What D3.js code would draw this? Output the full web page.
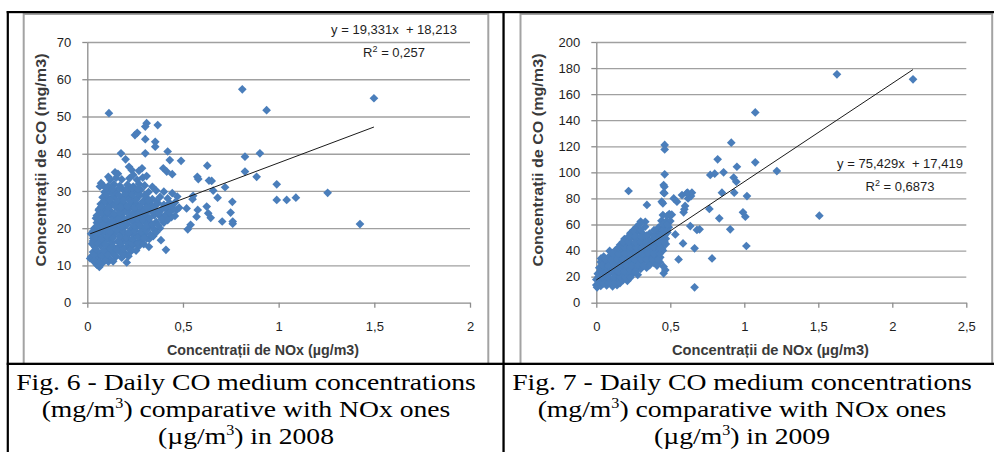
<!DOCTYPE html>
<html lang="ro">

<head>
    <meta charset="UTF-8" />
    <title>CO vs NOx 2008 / 2009</title>
    <script src="https://d3js.org/d3.v7.min.js"></script>
    <style>
        body {
            margin: 0;
            background: #fff;
        }

        svg {
            display: block;
        }

        .tick text {
            font-family: "Liberation Sans", Arial, sans-serif;
            font-size: 13px;
            fill: #1e1e1e;
        }

        .axis-title {
            font-family: "Liberation Sans", Arial, sans-serif;
            font-size: 14px;
            font-weight: bold;
            fill: #3a3a3a;
        }

        .eq {
            font-family: "Liberation Sans", Arial, sans-serif;
            font-size: 13px;
            fill: #1e1e1e;
            white-space: pre;
        }

        .caption {
            font-family: "Liberation Serif", "Times New Roman", serif;
            font-size: 24px;
            fill: #000;
        }
    </style>
</head>

<body>

    <div id="chart"></div>

    <script>
        // ---- data ----
        const xTicks2008 = [0, 0.5, 1, 1.5, 2];
        const yTicks2008 = [0, 10, 20, 30, 40, 50, 60, 70];
        const xTicks2009 = [0, 0.5, 1, 1.5, 2, 2.5];
        const yTicks2009 = [0, 20, 40, 60, 80, 100, 120, 140, 160, 180, 200];

        // trendline: [slope, intercept], R²
        const trend2008 = [19.331, 18.213];
        const r2_2008 = "0,257";
        const trend2009 = [75.429, 17.419];
        const r2_2009 = "0,6873";

        // [NOx, CO] pairs, 2008
        const points2008 = [
            [0.113, 50.9], [0.81, 57.3], [0.937, 51.7], [1.498, 54.9], [0.902, 40.1], [0.824, 39.2], [0.824, 35.2],
            [0.885, 33.8], [0.99, 31.8], [0.99, 27.6], [1.042, 27.6], [1.09, 28.2], [1.256, 29.5], [1.425, 21.1],
            [0.627, 36.8], [0.624, 25.8], [0.632, 24.0], [0.645, 22.8], [0.575, 33.8], [0.58, 33.2], [0.636, 32.8],
            [0.65, 32.7], [0.658, 30.1], [0.681, 28.2], [0.72, 31.0], [0.705, 21.8], [0.758, 27.1], [0.749, 24.2],
            [0.76, 21.8], [0.76, 21.2], [0.577, 24.9], [0.571, 23.1], [0.55, 27.8], [0.553, 28.7], [0.519, 25.3],
            [0.54, 20.9], [0.525, 19.7], [0.49, 38.1], [0.42, 40.6], [0.431, 38.3], [0.397, 36.1], [0.415, 35.2],
            [0.444, 34.5], [0.368, 47.7], [0.355, 43.2], [0.355, 41.9], [0.31, 48.2], [0.303, 47.3], [0.303, 43.9],
            [0.303, 40.1], [0.249, 45.0], [0.261, 45.6], [0.176, 40.1], [0.2, 38.5], [0.218, 36.5], [0.072, 32.1],
            [0.066, 31.2], [0.11, 33.8], [0.145, 35.0], [0.385, 16.8], [0.411, 14.2], [0.324, 17.1], [0.322, 15.0],
            [0.206, 10.8], [0.063, 9.6], [0.026, 11.7], [0.015, 11.9], [0.031, 17.3], [0.037, 20.0], [0.045, 22.7],
            [0.061, 25.1], [0.444, 29.4], [0.458, 26.9], [0.467, 24.9], [0.458, 23.3], [0.431, 23.2], [0.402, 23.2],
            [0.38, 23.2], [0.319, 21.3], [0.286, 36.1], [0.232, 35.6], [0.48, 25.5], [0.47, 28.5],
            [0.05, 10.2], [0.08, 10.7], [0.11, 11.0], [0.04, 10.8],
            [0.02, 12.3], [0.05, 11.9], [0.09, 12.2], [0.12, 11.7], [0.15, 12.4], [0.18, 12.1],
            [0.03, 13.6], [0.06, 13.3], [0.10, 13.8], [0.13, 13.4], [0.17, 13.7], [0.20, 13.2], [0.23, 13.9],
            [0.04, 15.0], [0.07, 15.4], [0.11, 15.1], [0.14, 14.8], [0.17, 15.3], [0.21, 15.0], [0.24, 15.5], [0.27, 15.2],
            [0.03, 16.6], [0.06, 16.9], [0.09, 16.5], [0.12, 16.8], [0.16, 16.4], [0.19, 17.0], [0.22, 16.7],
            [0.25, 16.3], [0.28, 16.9], [0.31, 17.2],
            [0.02, 18.5], [0.05, 18.2], [0.08, 18.6], [0.11, 18.1], [0.14, 18.4], [0.18, 18.7], [0.21, 18.2],
            [0.24, 18.5], [0.27, 18.0], [0.30, 18.6], [0.33, 18.3],
            [0.04, 19.8], [0.07, 20.2], [0.10, 19.9], [0.13, 20.3], [0.16, 19.7], [0.19, 20.1], [0.23, 19.8],
            [0.26, 20.4], [0.29, 19.9], [0.32, 20.2], [0.35, 19.6], [0.38, 20.0],
            [0.05, 21.5], [0.08, 21.9], [0.11, 21.4], [0.14, 21.8], [0.17, 21.6], [0.20, 21.3], [0.24, 21.9],
            [0.27, 21.5], [0.30, 21.8], [0.33, 21.4], [0.36, 21.7], [0.40, 21.5],
            [0.05, 23.4], [0.09, 23.1], [0.12, 23.5], [0.15, 23.2], [0.18, 23.6], [0.22, 23.0], [0.25, 23.4],
            [0.28, 23.7], [0.31, 23.1], [0.35, 23.5], [0.41, 23.6], [0.44, 23.0],
            [0.06, 24.8], [0.09, 25.2], [0.12, 24.7], [0.16, 25.1], [0.19, 24.9], [0.22, 25.3], [0.26, 24.6],
            [0.29, 25.0], [0.32, 25.4], [0.36, 24.8], [0.39, 25.1], [0.42, 24.7], [0.45, 25.2],
            [0.07, 26.5], [0.10, 26.9], [0.13, 26.4], [0.17, 26.7], [0.20, 26.3], [0.23, 26.8], [0.26, 26.5],
            [0.30, 26.9], [0.33, 26.4], [0.37, 26.7], [0.40, 26.3], [0.43, 26.8],
            [0.08, 28.3], [0.11, 27.9], [0.14, 28.5], [0.18, 28.1], [0.21, 28.4], [0.24, 27.9], [0.27, 28.6],
            [0.31, 28.2], [0.34, 27.8], [0.38, 28.4], [0.42, 28.0],
            [0.09, 29.7], [0.12, 30.1], [0.15, 29.8], [0.19, 30.2], [0.22, 29.6], [0.25, 30.0], [0.28, 30.3],
            [0.32, 29.7], [0.36, 30.1], [0.40, 29.8],
            [0.08, 31.6], [0.11, 31.3], [0.14, 31.8], [0.17, 31.4], [0.21, 31.7], [0.24, 31.2], [0.27, 31.9],
            [0.30, 31.5], [0.34, 31.1],
            [0.12, 33.0], [0.15, 33.5], [0.18, 33.1], [0.22, 33.4], [0.26, 33.0], [0.29, 33.6],
            [0.16, 34.6], [0.24, 34.3], [0.27, 35.4], [0.31, 34.0],
            [0.035, 11.3], [0.065, 11.0], [0.095, 11.4], [0.135, 11.1],
            [0.035, 12.9], [0.075, 12.6], [0.105, 13.0], [0.145, 12.7], [0.19, 12.9], [0.215, 12.5],
            [0.045, 14.4], [0.085, 14.1], [0.12, 14.5], [0.155, 14.2], [0.19, 14.6], [0.225, 14.3], [0.255, 14.0],
            [0.025, 15.8], [0.055, 16.1], [0.095, 15.7], [0.13, 16.0], [0.175, 15.9], [0.205, 16.2], [0.235, 15.8],
            [0.265, 16.1], [0.295, 15.7],
            [0.045, 17.6], [0.075, 17.3], [0.105, 17.7], [0.135, 17.4], [0.17, 17.8], [0.205, 17.5], [0.235, 17.2],
            [0.265, 17.7], [0.295, 17.4], [0.345, 17.9],
            [0.03, 19.2], [0.06, 18.9], [0.09, 19.3], [0.12, 19.0], [0.155, 19.4], [0.19, 19.1], [0.215, 18.8],
            [0.25, 19.3], [0.28, 19.0], [0.31, 19.4], [0.36, 18.9],
            [0.055, 20.7], [0.085, 21.0], [0.115, 20.6], [0.145, 20.9], [0.18, 20.5], [0.21, 21.0], [0.245, 20.7],
            [0.275, 20.9], [0.31, 20.6], [0.34, 21.0], [0.37, 20.8],
            [0.065, 22.3], [0.095, 22.6], [0.13, 22.2], [0.16, 22.7], [0.195, 22.4], [0.23, 22.1], [0.26, 22.6],
            [0.29, 22.3], [0.325, 22.7], [0.39, 22.4], [0.42, 22.2],
            [0.075, 24.0], [0.105, 24.3], [0.14, 23.9], [0.17, 24.2], [0.205, 24.4], [0.235, 23.9], [0.27, 24.2],
            [0.305, 24.0], [0.34, 24.3], [0.375, 24.1], [0.43, 24.2],
            [0.075, 25.8], [0.11, 25.5], [0.145, 25.9], [0.175, 25.6], [0.21, 25.8], [0.245, 25.5], [0.275, 25.9],
            [0.31, 25.6], [0.35, 25.8], [0.41, 25.6], [0.44, 26.0],
            [0.09, 27.3], [0.12, 27.6], [0.155, 27.2], [0.19, 27.5], [0.225, 27.3], [0.255, 27.7], [0.29, 27.2],
            [0.32, 27.5], [0.36, 27.3],
            [0.10, 29.0], [0.13, 29.3], [0.165, 28.9], [0.20, 29.2], [0.235, 29.0], [0.265, 29.3], [0.30, 28.9],
            [0.10, 30.8], [0.135, 30.5], [0.17, 30.9], [0.205, 30.6], [0.235, 30.8], [0.265, 30.5]
        ];

        // [NOx, CO] pairs, 2009
        const points2009 = [
            [1.626, 175.2], [2.14, 171.4], [1.074, 146.0], [0.912, 122.8], [0.462, 121.0], [0.462, 117.6],
            [0.462, 98.5], [0.82, 110], [0.77, 98], [0.80, 99], [0.86, 100], [0.95, 104.3], [1.074, 107.7],
            [1.22, 101], [0.928, 96], [0.946, 92.8], [0.849, 84.4], [0.932, 84.4], [1.018, 81.8], [0.764, 71.9],
            [0.831, 64.7], [0.991, 69.3], [1.007, 66], [0.905, 56.3], [1.014, 43.5], [0.782, 34], [0.664, 11.8],
            [1.507, 66.8], [0.664, 41.7], [0.68, 55.8], [0.698, 56.3], [0.635, 58.8], [0.556, 33.2], [0.586, 45.5],
            [0.59, 69.3], [0.60, 74.2], [0.579, 82.6], [0.617, 84.4], [0.64, 81.8], [0.646, 84.4], [0.523, 80],
            [0.545, 77.5], [0.534, 52.4], [0.493, 68], [0.455, 90.3], [0.455, 84.4], [0.45, 76.2], [0.342, 75],
            [0.218, 85.7], [0.331, 62.1], [0.444, 41.7], [0.455, 27.6], [0.455, 22.5], [0.466, 25], [0.432, 34.8],
            [0.005, 11.8], [0.032, 34], [0.595, 71.6], [0.62, 80], [0.611, 84], [0.46, 89], [0.46, 84], [0.442, 77.5],
            [0.00, 13.5], [0.03, 12.8], [0.07, 13.2], [0.11, 12.6], [0.14, 13.4],
            [0.00, 17.8], [0.03, 17.2], [0.06, 17.6], [0.10, 17.1], [0.14, 17.9], [0.18, 17.3], [0.21, 16.8],
            [0.01, 22.3], [0.05, 21.8], [0.09, 22.4], [0.13, 21.6], [0.17, 22.2], [0.21, 21.9], [0.25, 22.5], [0.28, 21.4],
            [0.02, 26.8], [0.06, 26.2], [0.10, 26.7], [0.14, 26.1], [0.18, 26.9], [0.22, 26.4], [0.26, 26.6],
            [0.30, 26.0], [0.34, 26.8],
            [0.03, 31.2], [0.07, 30.6], [0.11, 31.4], [0.15, 30.8], [0.19, 31.3], [0.23, 30.7], [0.27, 31.5],
            [0.31, 30.9], [0.35, 31.2], [0.39, 30.5], [0.43, 31.1],
            [0.05, 35.3], [0.09, 35.8], [0.13, 35.2], [0.17, 35.9], [0.21, 35.4], [0.25, 35.7], [0.29, 35.1],
            [0.33, 35.8], [0.37, 35.4], [0.41, 35.9],
            [0.09, 39.7], [0.13, 40.3], [0.17, 39.8], [0.21, 40.4], [0.25, 39.6], [0.29, 40.2], [0.33, 39.9],
            [0.37, 40.5], [0.41, 39.7], [0.45, 40.1],
            [0.16, 44.3], [0.20, 44.8], [0.24, 44.2], [0.28, 44.9], [0.32, 44.4], [0.36, 44.7], [0.40, 44.1],
            [0.44, 44.6], [0.47, 45.0],
            [0.19, 48.8], [0.23, 49.3], [0.27, 48.6], [0.31, 49.2], [0.35, 48.9], [0.39, 49.4], [0.43, 48.7], [0.47, 49.1],
            [0.23, 53.2], [0.27, 53.8], [0.31, 53.4], [0.36, 53.1], [0.41, 53.7], [0.44, 53.3], [0.48, 53.9],
            [0.27, 57.8], [0.33, 58.3], [0.42, 57.6], [0.46, 58.2], [0.49, 57.9],
            [0.30, 62.2], [0.44, 62.8], [0.47, 62.3], [0.50, 62.6],
            [0.45, 67.2], [0.48, 66.7], [0.51, 67.5],
            [0.015, 15.2], [0.05, 14.8], [0.085, 15.3], [0.125, 14.9], [0.16, 15.1],
            [0.015, 19.9], [0.045, 19.4], [0.08, 19.8], [0.12, 19.5], [0.16, 20.0], [0.195, 19.6], [0.23, 19.3],
            [0.03, 24.4], [0.07, 24.0], [0.11, 24.5], [0.15, 23.9], [0.19, 24.3], [0.23, 24.6], [0.265, 24.1],
            [0.04, 28.9], [0.08, 28.4], [0.12, 28.8], [0.16, 28.5], [0.20, 29.0], [0.24, 28.6], [0.28, 28.9],
            [0.32, 28.4], [0.36, 28.8], [0.41, 28.5],
            [0.06, 33.4], [0.10, 32.9], [0.14, 33.3], [0.18, 33.0], [0.22, 33.5], [0.26, 33.1], [0.30, 33.4],
            [0.34, 32.9], [0.38, 33.3], [0.42, 33.0],
            [0.11, 37.9], [0.15, 37.5], [0.19, 37.8], [0.23, 37.4], [0.27, 37.9], [0.31, 37.6], [0.35, 37.8],
            [0.39, 37.3], [0.43, 37.7],
            [0.15, 42.0], [0.19, 42.5], [0.23, 42.1], [0.27, 42.4], [0.31, 41.9], [0.35, 42.3], [0.39, 42.6], [0.43, 42.0],
            [0.18, 46.5], [0.22, 46.9], [0.26, 46.4], [0.30, 46.8], [0.34, 46.6], [0.38, 46.9], [0.42, 46.3], [0.46, 46.7],
            [0.22, 51.0], [0.26, 51.4], [0.30, 51.1], [0.34, 51.5], [0.39, 51.2], [0.43, 51.0], [0.46, 51.4],
            [0.25, 55.5], [0.30, 55.9], [0.39, 55.6], [0.45, 55.8], [0.48, 55.4],
            [0.29, 60.1], [0.45, 60.3], [0.48, 59.8]
        ];

        const xTitle = "Concentrații de NOx (µg/m3)";
        const yTitle = "Concentrații de CO (mg/m3)";
        const captions = [
            ["Fig. 6 - Daily CO medium concentrations", "(mg/m", ") comparative with NOx ones", "(µg/m", ") in 2008"],
            ["Fig. 7 - Daily CO medium concentrations", "(mg/m", ") comparative with NOx ones", "(µg/m", ") in 2009"]
        ];

        const W = 994, H = 452;
        const svg = d3.select("#chart")
            .append("svg")
            .attr("width", W)
            .attr("height", H);

        const fmt = d => String(d).replace(".", ",");

        // chart image frames (gray)
        svg.append("rect").attr("x", 23.7).attr("y", 14).attr("width", 464.6).attr("height", 350)
            .attr("fill", "none").attr("stroke", "#a3a3a3").attr("stroke-width", 2);
        svg.append("rect").attr("x", 520.5).attr("y", 14).attr("width", 471.7).attr("height", 350)
            .attr("fill", "none").attr("stroke", "#a3a3a3").attr("stroke-width", 2);

        function drawChart(o) {
            const g = svg.append("g");

            const x = d3.scaleLinear().domain(o.xDomain).range(o.xRange);
            const y = d3.scaleLinear().domain(o.yDomain).range([302.7, 42]);

            // gridlines
            g.append("g")
                .attr("transform", `translate(${o.xRange[0]},0)`)
                .call(d3.axisLeft(y).tickValues(o.yTicks.slice(1))
                    .tickSize(-(o.xRange[1] - o.xRange[0])).tickFormat(""))
                .call(s => s.select(".domain").remove())
                .selectAll("line").attr("stroke", "#a0a0a0").attr("stroke-width", 1.3);

            // y axis
            const ya = g.append("g")
                .attr("transform", `translate(${o.xRange[0]},0)`)
                .call(d3.axisLeft(y).tickValues(o.yTicks).tickSize(5).tickSizeOuter(0)
                    .tickPadding(11).tickFormat(fmt));
            ya.attr("font-size", null).attr("font-family", null);
            ya.selectAll("line, path").attr("stroke", "#8c8c8c").attr("stroke-width", 1.3);

            // x axis
            const xa = g.append("g")
                .attr("transform", `translate(0,302.7)`)
                .call(d3.axisBottom(x).tickValues(o.xTicks).tickSize(5).tickSizeOuter(0)
                    .tickPadding(14.5).tickFormat(fmt));
            xa.attr("font-size", null).attr("font-family", null);
            xa.selectAll("line, path").attr("stroke", "#8c8c8c").attr("stroke-width", 1.3);

            // markers
            const diamond = d3.symbol(d3.symbolSquare, 38);
            g.append("g").selectAll("path")
                .data(o.points)
                .enter().append("path")
                .attr("d", diamond)
                .attr("transform", d => `translate(${x(d[0])},${y(d[1])}) rotate(45)`)
                .attr("fill", "#4a7ebb");

            // linear trendline over the data's NOx extent
            const ext = d3.extent(o.points, d => d[0]);
            g.append("path")
                .datum(ext.map(v => [v, o.trend[0] * v + o.trend[1]]))
                .attr("d", d3.line().x(d => x(d[0])).y(d => y(d[1])))
                .attr("fill", "none")
                .attr("stroke", "#1a1a1a")
                .attr("stroke-width", 1);

            // equation + R²
            g.append("text").attr("class", "eq")
                .attr("x", o.eqX).attr("y", o.eqY).attr("text-anchor", "middle")
                .text(`y = ${fmt(o.trend[0])}x  + ${fmt(o.trend[1])}`);
            const r = g.append("text").attr("class", "eq")
                .attr("x", o.eqX).attr("y", o.eqY + 22.5).attr("text-anchor", "middle");
            r.append("tspan").text("R");
            r.append("tspan").attr("dy", -5).attr("font-size", "9px").text("2");
            r.append("tspan").attr("dy", 5).text(` = ${o.r2}`);

            // axis titles
            g.append("text").attr("class", "axis-title")
                .attr("x", o.xTitleX).attr("y", 355).attr("text-anchor", "middle")
                .attr("textLength", o.xTitleLen).attr("lengthAdjust", "spacingAndGlyphs")
                .text(xTitle);
            g.append("text").attr("class", "axis-title")
                .attr("transform", `translate(${o.yTitleX},160) rotate(-90)`)
                .attr("text-anchor", "middle")
                .attr("textLength", 213).attr("lengthAdjust", "spacingAndGlyphs")
                .text(yTitle);
        }

        drawChart({
            xDomain: [0, 2], xRange: [87.3, 470], yDomain: [0, 70],
            xTicks: xTicks2008, yTicks: yTicks2008, points: points2008,
            trend: trend2008, r2: r2_2008, eqX: 394, eqY: 34.3,
            xTitleX: 263, xTitleLen: 192, yTitleX: 45.5
        });

        drawChart({
            xDomain: [0, 2.5], xRange: [596.3, 966.3], yDomain: [0, 200],
            xTicks: xTicks2009, yTicks: yTicks2009, points: points2009,
            trend: trend2009, r2: r2_2009, eqX: 900, eqY: 168.3,
            xTitleX: 770.5, xTitleLen: 197, yTitleX: 542.5
        });

        // table rules (black)
        const black = [
            [6.7, 11, W - 6.7, 2.2],      // top
            [6.7, 11, 2.2, H - 11],       // left
            [502.4, 11, 2.3, H - 11],     // middle
            [6.7, 362.7, W - 6.7, 2.3]    // between charts and captions
        ];
        svg.append("g").selectAll("rect")
            .data(black)
            .enter().append("rect")
            .attr("x", d => d[0]).attr("y", d => d[1])
            .attr("width", d => d[2]).attr("height", d => d[3])
            .attr("fill", "#000");

        // captions
        const capX = [246, 742];
        captions.forEach((c, i) => {
            const cg = svg.append("g");
            const l1 = cg.append("text").attr("class", "caption").attr("text-anchor", "middle")
                .attr("y", 390).text(c[0]);
            const l2 = cg.append("text").attr("class", "caption").attr("text-anchor", "middle").attr("y", 417);
            l2.append("tspan").text(c[1]);
            l2.append("tspan").attr("dy", -9).attr("font-size", "14px").text("3");
            l2.append("tspan").attr("dy", 9).text(c[2]);
            const l3 = cg.append("text").attr("class", "caption").attr("text-anchor", "middle").attr("y", 444);
            l3.append("tspan").text(c[3]);
            l3.append("tspan").attr("dy", -9).attr("font-size", "14px").text("3");
            l3.append("tspan").attr("dy", 9).text(c[4]);
            const sx = 460 / l1.node().getComputedTextLength();
            cg.attr("transform", `translate(${capX[i]},0) scale(${sx},1)`);
        });
    </script>

</body>

</html>
